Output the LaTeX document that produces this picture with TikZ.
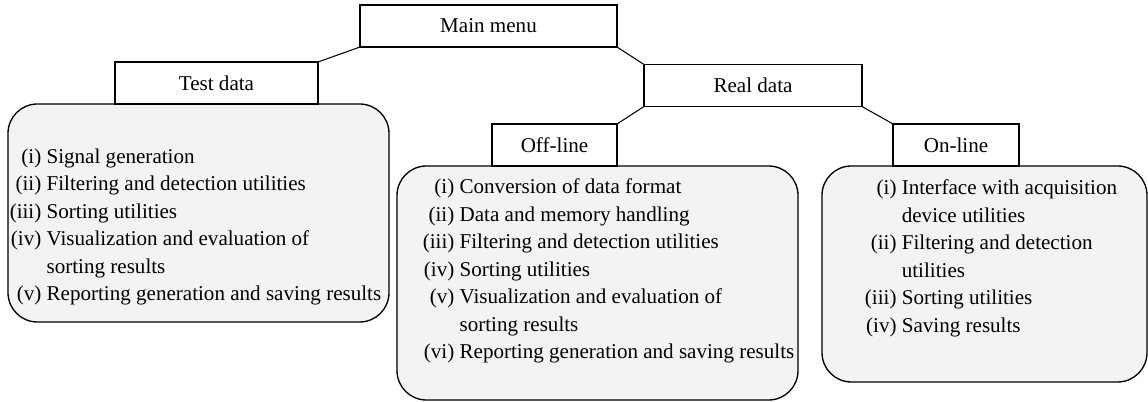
\documentclass[tikz,border=0pt]{standalone}
\usepackage{fontspec}
\setmainfont{Liberation Serif}
\definecolor{panelgray}{HTML}{F2F3F2}
\tikzset{
  head/.style={draw, fill=white, line width=0.8pt, outer sep=0pt, inner sep=0pt, minimum height=31.5pt},
  panel/.style={draw, fill=panelgray, line width=1pt, rounded corners=22pt, outer sep=0pt, inner sep=0pt},
  list/.style={anchor=north west, inner sep=0pt, align=left},
  link/.style={line width=0.8pt}
}
\newcommand{\itemlist}[1]{\begin{tabular}{@{}r@{\ }l@{}}#1\end{tabular}}
\begin{document}
\begin{tikzpicture}[x=0.75pt,y=-0.75pt,font=\fontsize{15.8}{20.6}\selectfont]
\useasboundingbox (0,0) rectangle (1148,402);

% rounded panels
\node[panel, minimum width=285.75pt, minimum height=163.5pt] (testpanel) at (198.5,213) {};
\node[panel, minimum width=300.75pt, minimum height=175.5pt] (offpanel) at (597.5,283) {};
\node[panel, minimum width=243.75pt, minimum height=162pt] (onpanel) at (984.5,274) {};

% menu boxes
\node[head, minimum width=192.75pt] (mainmenu) at (488.5,26) {Main menu};
\node[head, minimum width=152.25pt] (testdata) at (216.5,83) {Test data};
\node[head, minimum width=163.5pt] (realdata) at (753,85.5) {Real data};
\node[head, minimum width=93.75pt] (offline) at (554.5,145) {Off-line};
\node[head, minimum width=94.5pt] (online) at (956,145) {On-line};

\draw[link] (testdata.north east) -- (mainmenu.south west);
\draw[link] (mainmenu.south east) -- (realdata.north west);
\draw[link] (realdata.south west) -- (offline.north east);
\draw[link] (realdata.south east) -- (online.north west);

% lists
\node[list] (testlist) at (9.5,144) {\itemlist{
 (i) & Signal generation\\
 (ii) & Filtering and detection utilities\\
 (iii) & Sorting utilities\\
 (iv) & Visualization and evaluation of\\
 & sorting results\\
 (v) & Reporting generation and saving results}};
\node[list] (offlist) at (422.5,174.3) {\itemlist{
 (i) & Conversion of data format\\
 (ii) & Data and memory handling\\
 (iii) & Filtering and detection utilities\\
 (iv) & Sorting utilities\\
 (v) & Visualization and evaluation of\\
 & sorting results\\
 (vi) & Reporting generation and saving results}};
\node[list] (onlist) at (864.7,175.3) {\itemlist{
 (i) & Interface with acquisition\\
 & device utilities\\
 (ii) & Filtering and detection\\
 & utilities\\
 (iii) & Sorting utilities\\
 (iv) & Saving results}};
\end{tikzpicture}
\end{document}
